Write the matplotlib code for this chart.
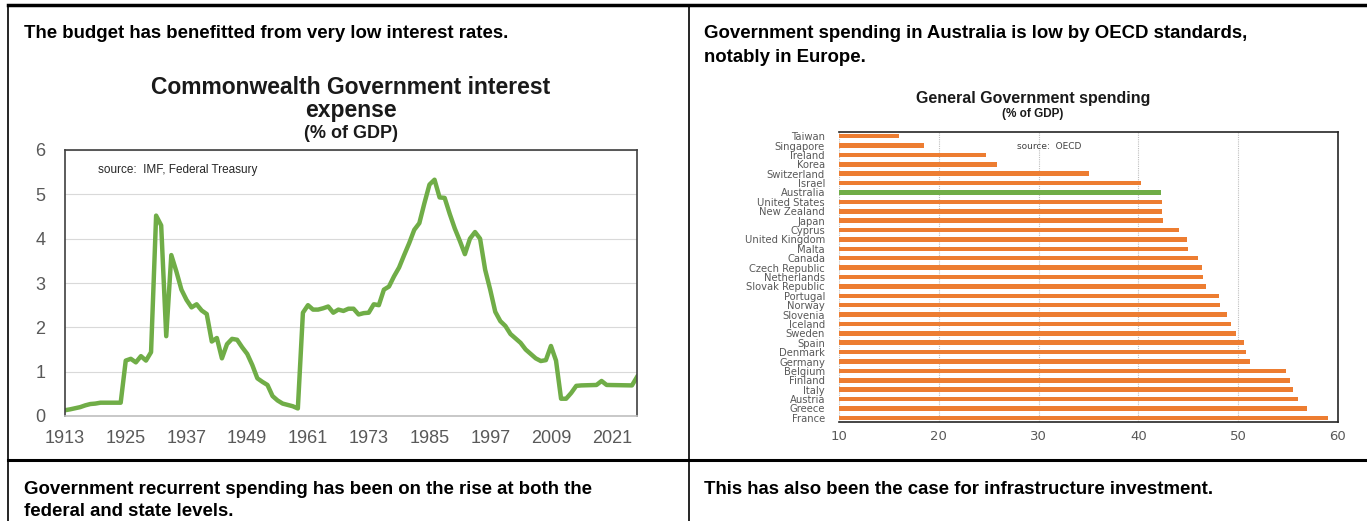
import matplotlib
matplotlib.use("Agg")
import matplotlib.pyplot as plt

W, H = 1367, 521

# Commonwealth interest expense, % of GDP
years = [1913, 1914, 1916, 1917, 1918, 1919, 1920, 1924, 1925, 1926, 1927, 1928,
         1929, 1930, 1931, 1932, 1933, 1934, 1935, 1936, 1937, 1938, 1939, 1940,
         1941, 1942, 1943, 1944, 1945, 1946, 1947, 1948, 1949, 1950, 1951, 1952,
         1953, 1954, 1955, 1956, 1957, 1958, 1959, 1960, 1961, 1962, 1963, 1964,
         1965, 1966, 1967, 1968, 1969, 1970, 1971, 1972, 1973, 1974, 1975, 1976,
         1977, 1978, 1979, 1980, 1981, 1982, 1983, 1984, 1985, 1986, 1987, 1988,
         1989, 1990, 1991, 1992, 1993, 1994, 1995, 1996, 1997, 1998, 1999, 2000,
         2001, 2002, 2003, 2004, 2005, 2006, 2007, 2008, 2009, 2010, 2011, 2012,
         2013, 2014, 2015, 2018, 2019, 2020, 2025, 2026]
interest = [0.13, 0.15, 0.20, 0.24, 0.27, 0.28, 0.30, 0.30, 1.25, 1.29, 1.21, 1.35,
            1.25, 1.44, 4.52, 4.30, 1.80, 3.63, 3.26, 2.85, 2.62, 2.45, 2.52, 2.38,
            2.30, 1.68, 1.76, 1.30, 1.62, 1.74, 1.72, 1.55, 1.40, 1.15, 0.85, 0.77,
            0.70, 0.45, 0.35, 0.28, 0.25, 0.22, 0.17, 2.33, 2.50, 2.40, 2.40, 2.43,
            2.47, 2.33, 2.40, 2.37, 2.42, 2.42, 2.29, 2.32, 2.33, 2.52, 2.50, 2.85,
            2.92, 3.15, 3.35, 3.63, 3.90, 4.20, 4.35, 4.80, 5.22, 5.33, 4.93, 4.92,
            4.56, 4.23, 3.95, 3.65, 4.00, 4.15, 4.00, 3.30, 2.85, 2.35, 2.14, 2.03,
            1.85, 1.75, 1.65, 1.50, 1.40, 1.30, 1.24, 1.26, 1.58, 1.25, 0.39, 0.39,
            0.52, 0.68, 0.69, 0.70, 0.79, 0.70, 0.69, 0.88]
year_ticks = [1913, 1925, 1937, 1949, 1961, 1973, 1985, 1997, 2009, 2021]

# General government spending, % of GDP
countries = ["Taiwan", "Singapore", "Ireland", "Korea", "Switzerland", "Israel",
             "Australia", "United States", "New Zealand", "Japan", "Cyprus",
             "United Kingdom", "Malta", "Canada", "Czech Republic", "Netherlands",
             "Slovak Republic", "Portugal", "Norway", "Slovenia", "Iceland",
             "Sweden", "Spain", "Denmark", "Germany", "Belgium", "Finland",
             "Italy", "Austria", "Greece", "France"]
spending = [16.0, 18.5, 24.7, 25.8, 35.0, 40.3, 42.3, 42.4, 42.4, 42.5, 44.1,
            44.9, 45.0, 46.0, 46.4, 46.5, 46.8, 48.1, 48.2, 48.9, 49.3, 49.8,
            50.6, 50.8, 51.2, 54.8, 55.2, 55.5, 56.0, 56.9, 59.0]
spend_ticks = [10, 20, 30, 40, 50, 60]

GREEN = "#70ad47"
ORANGE = "#ed7d31"
GREY = "#595959"
ARIAL = ["Liberation Sans", "DejaVu Sans"]

fig = plt.figure(figsize=(W / 100, H / 100), dpi=100)
fig.patch.set_facecolor("white")


def px_axes(x0, y0, x1, y1):
    return fig.add_axes([x0 / W, 1 - y1 / H, (x1 - x0) / W, (y1 - y0) / H])


# page frame and captions in pixel space
page = fig.add_axes([0, 0, 1, 1])
page.set_xlim(0, W)
page.set_ylim(H, 0)
page.axis("off")
page.plot([8, 8], [5, H], color="black", lw=1.2)
page.plot([8, W], [5, 5], color="black", lw=2.5)
page.plot([689, 689], [5, H], color="black", lw=1.2)
page.plot([8, W], [460, 460], color="black", lw=2.2)

cap = dict(fontsize=13.45, fontweight="bold", family=ARIAL, va="center", ha="left")
page.text(24, 33, "The budget has benefitted from very low interest rates.", **cap)
page.text(704, 33, "Government spending in Australia is low by OECD standards,", **cap)
page.text(704, 58, "notably in Europe.", **cap)
page.text(24, 489, "Government recurrent spending has been on the rise at both the", **cap)
page.text(24, 512, "federal and state levels.", **cap)
page.text(704, 489, "This has also been the case for infrastructure investment.", **cap)

# titles
ttl = dict(fontweight="bold", family=ARIAL, ha="center", va="center", color="#1a1a1a")
page.text(351, 88, "Commonwealth Government interest", fontsize=16.5, **ttl)
page.text(351, 111, "expense", fontsize=16.5, **ttl)
page.text(351, 134, "(% of GDP)", fontsize=13, **ttl)
page.text(1033, 99, "General Government spending", fontsize=11.5, **ttl)
page.text(1033, 114, "(% of GDP)", fontsize=8.5, **ttl)

# --- interest expense line chart ---
ax1 = px_axes(65, 150, 637, 416)
ax1.plot(years, interest, color=GREEN, lw=3.2, solid_joinstyle="round")
ax1.set_xlim(1913, 2026)
ax1.set_ylim(0, 6)
ax1.set_xticks(year_ticks)
ax1.set_yticks(range(7))
ax1.tick_params(length=0, labelsize=13, colors=GREY)
ax1.tick_params(axis="x", pad=10)
ax1.tick_params(axis="y", pad=14)
for lab in ax1.get_xticklabels() + ax1.get_yticklabels():
    lab.set_family(ARIAL)
ax1.grid(axis="y", color="#d9d9d9", lw=0.8)
ax1.set_axisbelow(True)
for s in ax1.spines.values():
    s.set_color("#404040")
    s.set_linewidth(1.2)
ax1.spines["bottom"].set_color("#bfbfbf")
ax1.text(0.058, 0.925, "source:  IMF, Federal Treasury", transform=ax1.transAxes,
         fontsize=8.5, family=ARIAL, color="#262626", va="center")

# --- OECD spending bar chart ---
ax2 = px_axes(839, 132, 1338, 422)
pos = list(range(len(countries)))
bar_colors = [GREEN if c == "Australia" else ORANGE for c in countries]
ax2.barh(pos, spending, height=0.48, color=bar_colors, left=0)
ax2.set_xlim(10, 60)
ax2.set_ylim(len(countries) - 1 + 0.44, -0.44)
ax2.set_yticks(pos)
ax2.set_yticklabels(countries)
ax2.set_xticks(spend_ticks)
ax2.tick_params(length=0, colors=GREY)
ax2.tick_params(axis="y", labelsize=7.2, pad=10)
ax2.tick_params(axis="x", labelsize=9.5, pad=6)
for lab in ax2.get_yticklabels() + ax2.get_xticklabels():
    lab.set_family("DejaVu Sans")
ax2.grid(axis="x", color="#bfbfbf", lw=0.8, linestyle=(0, (1, 1)))
ax2.set_axisbelow(True)
ax2.spines["left"].set_visible(False)
for side in ["top", "right", "bottom"]:
    ax2.spines[side].set_color("#262626")
    ax2.spines[side].set_linewidth(1.2)
ax2.text(0.356, 0.95, "source:  OECD", transform=ax2.transAxes,
         fontsize=6.5, family="DejaVu Sans", color="#404040", va="center")

fig.savefig("out.png", dpi=100, facecolor="white")
